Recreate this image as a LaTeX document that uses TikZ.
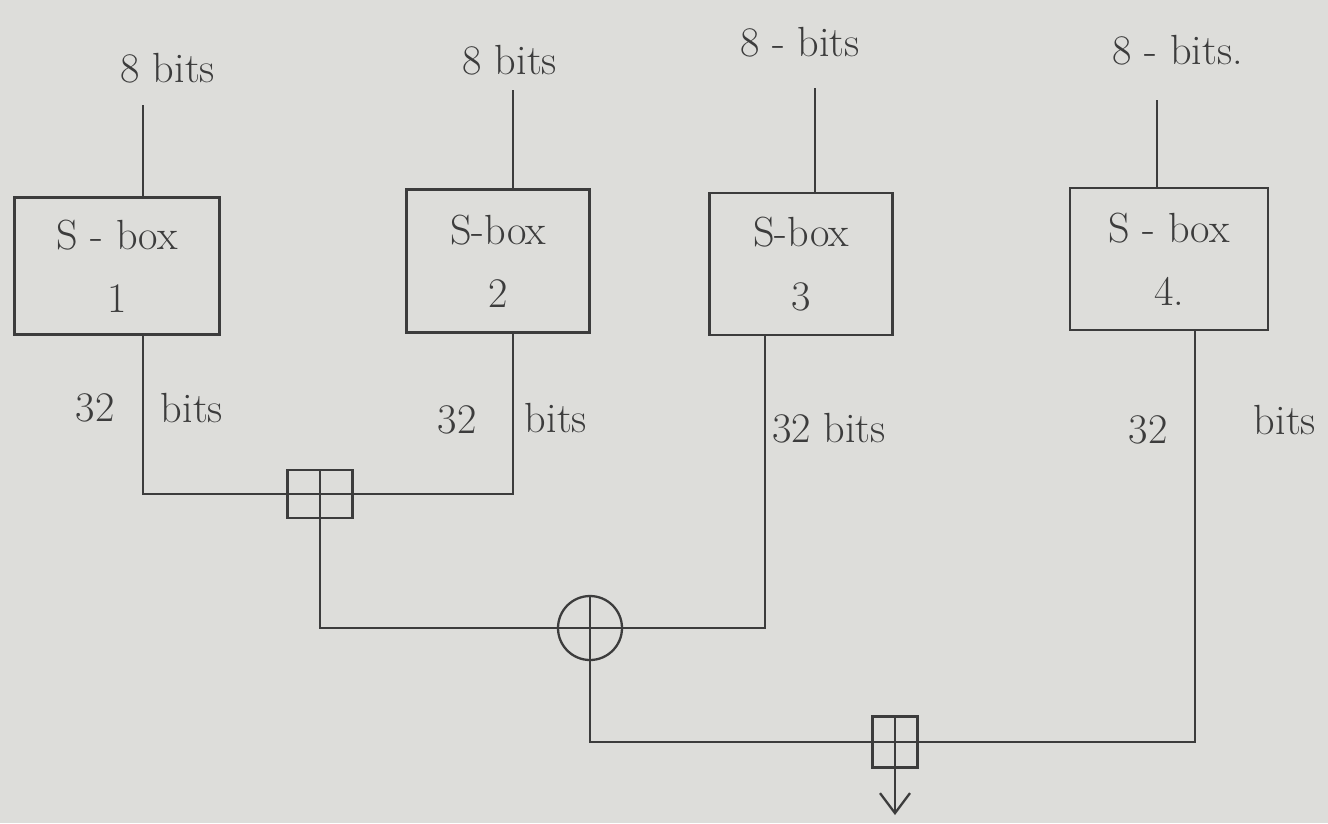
\documentclass[tikz,border=0pt]{standalone}
\usepackage{tikz}
\usetikzlibrary{arrows.meta,positioning,calc}
\definecolor{ink}{HTML}{3C3C3C}
\definecolor{paper}{HTML}{DDDDDA}
\tikzset{
  every node/.style={font=\fontsize{24}{36}\selectfont,text=ink},
  sbox/.style={draw=ink,line width=1.3pt,align=center,inner sep=0pt,minimum height=2.8cm},
  opbox/.style={draw=ink,line width=1.3pt,inner sep=0pt,path picture={\draw[ink,line width=1.3pt] (path picture bounding box.north) -- (path picture bounding box.south) (path picture bounding box.west) -- (path picture bounding box.east);}},
  adder/.style={opbox},
  xorop/.style={opbox,circle,minimum size=1.28cm},
  wire/.style={draw=ink,line width=1.3pt},
  lbl/.style={inner sep=1pt}
}
\begin{document}
\begin{tikzpicture}[x=0.02cm,y=-0.02cm]
  \fill[paper] (0,0) rectangle (1328,823);
  \useasboundingbox (0,0) rectangle (1328,823);

  \node[sbox,minimum width=4.1cm,minimum height=2.74cm] (s1) at (117,266) {S - box\\1};
  \node[sbox,minimum width=3.66cm,minimum height=2.86cm] (s2) at (498,261) {S-box\\2};
  \node[sbox,minimum width=3.66cm,minimum height=2.84cm] (s3) at (801,264) {S-box\\3};
  \node[sbox,minimum width=3.96cm,minimum height=2.84cm] (s4) at (1169,259) {S - box\\4.};

  \coordinate (in1) at (143,105);
  \coordinate (in2) at (513,90);
  \coordinate (in3) at (815,88);
  \coordinate (in4) at (1157,100);
  \coordinate (out3) at (765,0);
  \coordinate (out4) at (1195,0);

  \node[lbl] (w1) at (168,68) {8 bits};
  \node[lbl] (w2) at (510,60) {8 bits};
  \node[lbl] (w3) at (800,42) {8 - bits};
  \node[lbl] (w4) at (1178,50) {8 - bits.};

  \node[lbl] (n1) at (95,408) {32};
  \node[lbl] (b1) at (192,408) {bits};
  \node[lbl] (n2) at (457,420) {32};
  \node[lbl] (b2) at (556,418) {bits};
  \node[lbl,anchor=west] (nb3) at (770,428) {32 bits};
  \node[lbl] (n4) at (1148,430) {32};
  \node[lbl] (b4) at (1285,420) {bits};

  \node[adder,minimum width=1.3cm,minimum height=0.96cm] (add1) at (320,494) {};
  \node[xorop] (xor) at (590,628) {};
  \node[adder,minimum width=0.9cm,minimum height=1.02cm] (add2) at (895,742) {};
  \coordinate (out) at (895,815);

  \draw[wire] (in1) -- (s1.north -| in1);
  \draw[wire] (in2) -- (s2.north -| in2);
  \draw[wire] (in3) -- (s3.north -| in3);
  \draw[wire] (in4) -- (s4.north -| in4);

  \draw[wire] (s1.south -| in1) |- (add1.west);
  \draw[wire] (s2.south -| in2) |- (add1.east);
  \draw[wire] (add1.south) |- (xor.west);
  \draw[wire] (s3.south -| out3) |- (xor.east);
  \draw[wire] (xor.south) |- (add2.west);
  \draw[wire] (s4.south -| out4) |- (add2.east);
  \draw[wire,-{Straight Barb[length=4mm,width=6mm]}] (add2.south) -- (out);
\end{tikzpicture}
\end{document}
